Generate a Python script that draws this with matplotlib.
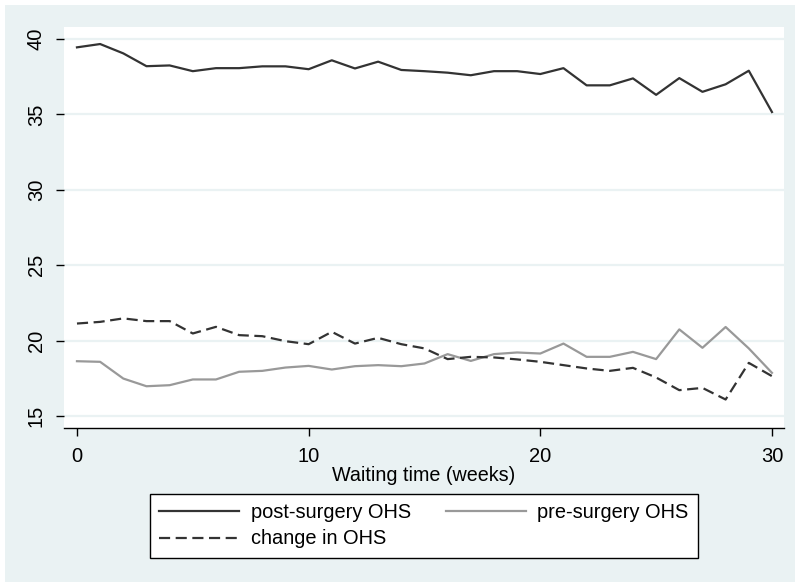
import matplotlib
matplotlib.use("Agg")
import matplotlib.pyplot as plt
from matplotlib.patches import Rectangle

plt.rcParams['font.family'] = ['Liberation Sans', 'DejaVu Sans']

# Semanas de espera 0..30
semanas = list(range(0, 31))

post_cirugia = [39.45, 39.67, 39.05, 38.20, 38.25, 37.87, 38.07, 38.07, 38.19, 38.19,
                38.00, 38.59, 38.05, 38.50, 37.95, 37.87, 37.77, 37.60, 37.87, 37.87,
                37.68, 38.07, 36.93, 36.93, 37.39, 36.30, 37.41, 36.50, 37.00, 37.90,
                35.16]

pre_cirugia = [18.63, 18.59, 17.48, 16.97, 17.04, 17.42, 17.42, 17.93, 17.99, 18.21,
               18.32, 18.08, 18.30, 18.37, 18.30, 18.48, 19.10, 18.65, 19.10, 19.21,
               19.14, 19.80, 18.92, 18.92, 19.25, 18.77, 20.74, 19.52, 20.90, 19.48,
               17.86]

cambio = [21.13, 21.24, 21.47, 21.29, 21.29, 20.47, 20.91, 20.36, 20.29, 19.96,
          19.76, 20.58, 19.80, 20.18, 19.76, 19.48, 18.77, 18.92, 18.88, 18.75,
          18.59, 18.37, 18.15, 17.99, 18.19, 17.55, 16.71, 16.86, 16.09, 18.52,
          17.64]

etiquetas = ["post-surgery OHS", "change in OHS", "pre-surgery OHS"]

FONDO = "#eaf2f3"
W, H = 795, 582

fig = plt.figure(figsize=(W / 100, H / 100), dpi=100, facecolor="white")
fig.patches.append(Rectangle((5 / W, 0), 1, 1 - 5 / H, transform=fig.transFigure,
                             facecolor=FONDO, edgecolor="none", zorder=-10))

ax = fig.add_axes([64 / W, 1 - 428 / H, 720 / W, 401 / H])
ax.set_facecolor("white")

l1, = ax.plot(semanas, post_cirugia, color="#333333", lw=1.6)
l2, = ax.plot(semanas, pre_cirugia, color="#999999", lw=1.6)
l3, = ax.plot(semanas, cambio, color="#333333", lw=1.6, dashes=(5, 2.5))

ax.set_xlim(-0.56, 30.52)
ax.set_ylim(14.2, 40.8)
ax.set_xticks([0, 10, 20, 30])
ax.set_yticks([15, 20, 25, 30, 35, 40])
ax.grid(axis="y", color=FONDO, lw=1.6)
ax.set_axisbelow(True)

for lado in ["left", "top", "right"]:
    ax.spines[lado].set_visible(False)
ax.spines["bottom"].set_color("black")
ax.spines["bottom"].set_linewidth(1.0)

ax.tick_params(axis="x", length=6, width=1, pad=8, labelsize=14.5)
ax.tick_params(axis="y", length=6, width=1, pad=7, labelsize=14.5)
for t in ax.get_yticklabels():
    t.set_rotation(90)
    t.set_va("center")

ax.set_xlabel("Waiting time (weeks)", fontsize=14.2, labelpad=0)

leg = fig.legend([l1, l3, l2], etiquetas, ncol=2, loc="center",
                 bbox_to_anchor=(424 / W, 1 - 525.5 / H), fontsize=14.4,
                 handlelength=4.0, columnspacing=1.75, handletextpad=0.57,
                 fancybox=False, framealpha=1, edgecolor="black",
                 borderpad=0.45, labelspacing=0.4)
leg.get_frame().set_linewidth(1.0)

fig.savefig("out.png", dpi=100, facecolor=fig.get_facecolor())
